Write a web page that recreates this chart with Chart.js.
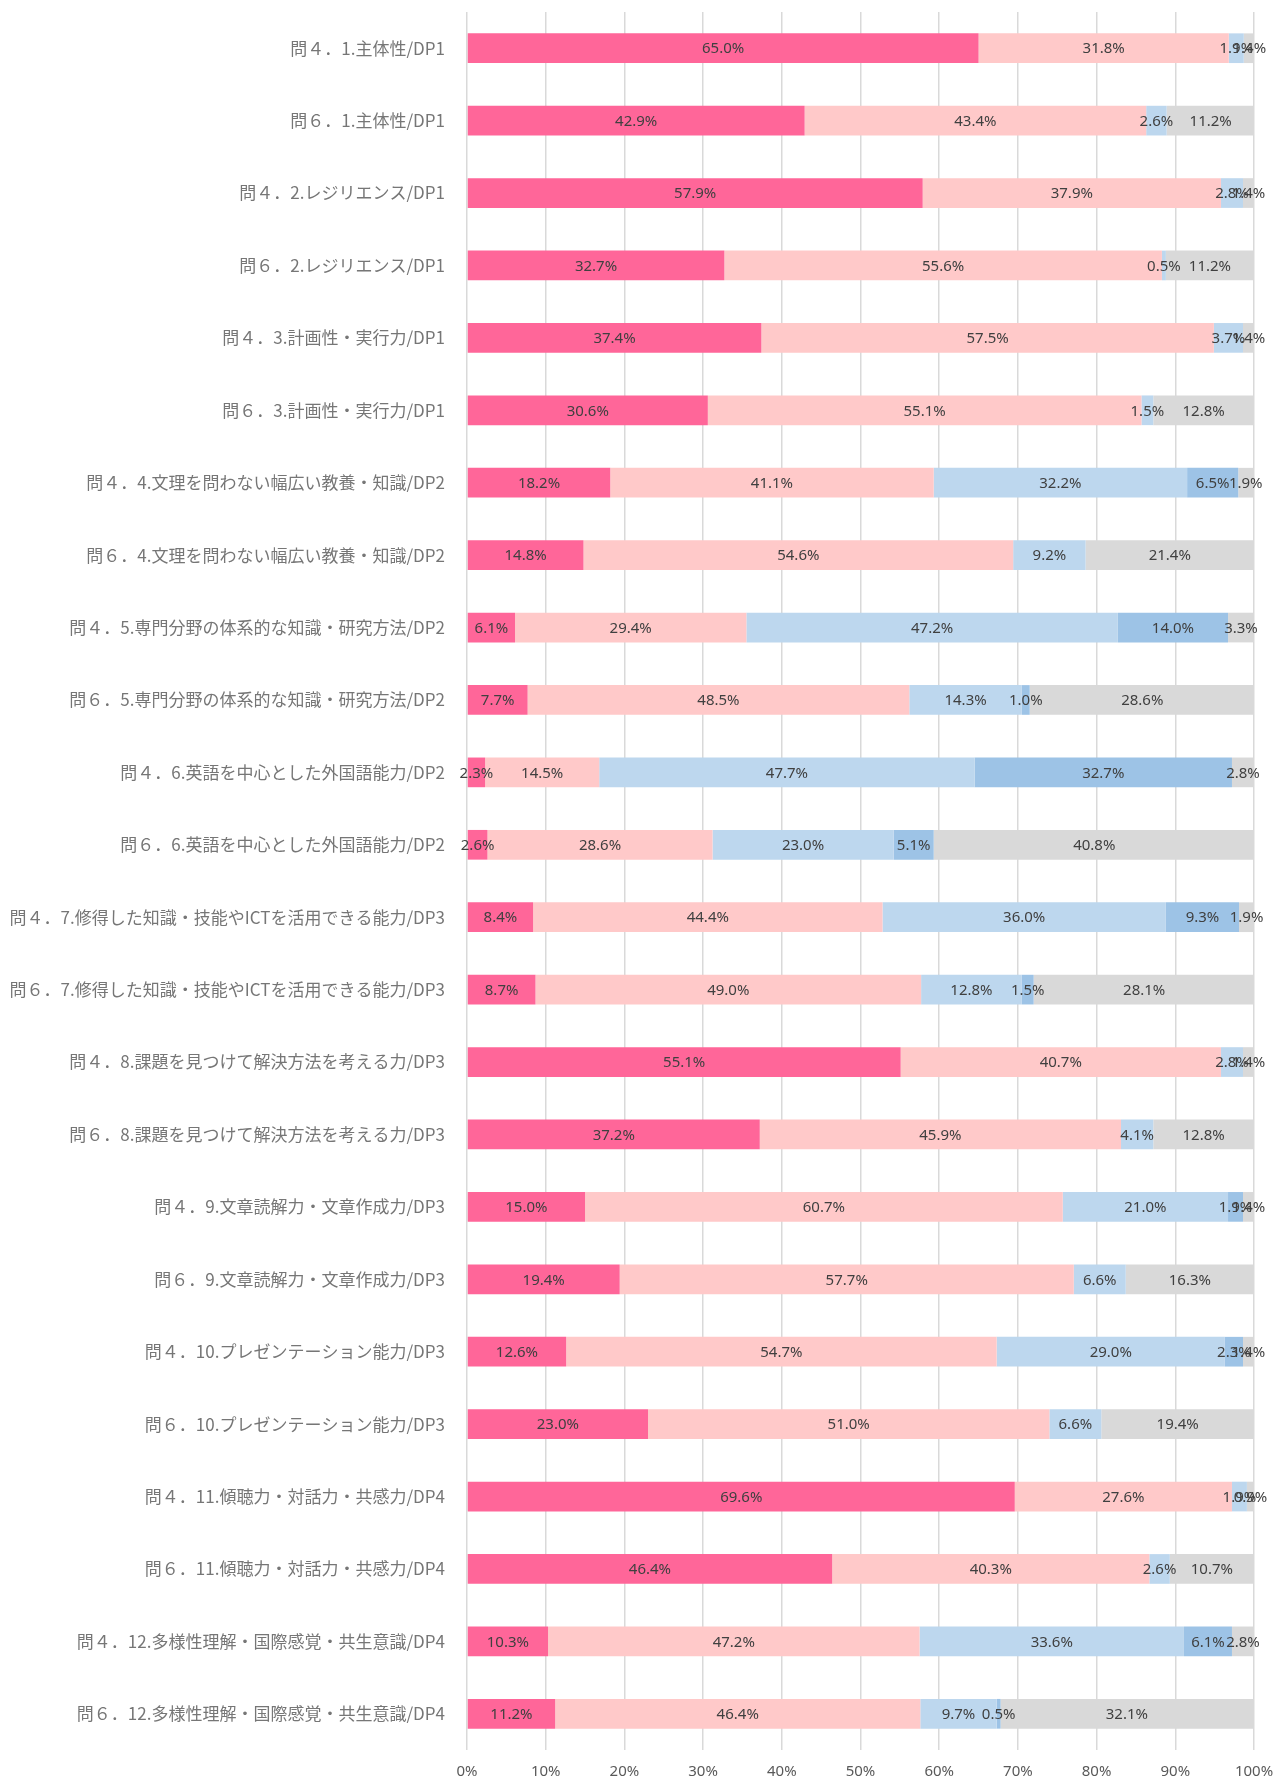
<!DOCTYPE html>
<html lang="ja">
<head>
    <meta charset="UTF-8">
    <title>DP達成度</title>
    <script src="https://cdn.jsdelivr.net/npm/chart.js"></script>
    <style>
        html, body { margin: 0; padding: 0; background: #ffffff; overflow: hidden; }
        .chart-wrap { width: 1274px; height: 1780px; position: relative; }
        canvas { display: block; }
    </style>
</head>
<body>
    <div class="chart-wrap">
        <canvas id="dpChart"></canvas>
    </div>

    <script>
        // Categories (top to bottom)
        const categories = [
            '問４．1.主体性/DP1',
            '問６．1.主体性/DP1',
            '問４．2.レジリエンス/DP1',
            '問６．2.レジリエンス/DP1',
            '問４．3.計画性・実行力/DP1',
            '問６．3.計画性・実行力/DP1',
            '問４．4.文理を問わない幅広い教養・知識/DP2',
            '問６．4.文理を問わない幅広い教養・知識/DP2',
            '問４．5.専門分野の体系的な知識・研究方法/DP2',
            '問６．5.専門分野の体系的な知識・研究方法/DP2',
            '問４．6.英語を中心とした外国語能力/DP2',
            '問６．6.英語を中心とした外国語能力/DP2',
            '問４．7.修得した知識・技能やICTを活用できる能力/DP3',
            '問６．7.修得した知識・技能やICTを活用できる能力/DP3',
            '問４．8.課題を見つけて解決方法を考える力/DP3',
            '問６．8.課題を見つけて解決方法を考える力/DP3',
            '問４．9.文章読解力・文章作成力/DP3',
            '問６．9.文章読解力・文章作成力/DP3',
            '問４．10.プレゼンテーション能力/DP3',
            '問６．10.プレゼンテーション能力/DP3',
            '問４．11.傾聴力・対話力・共感力/DP4',
            '問６．11.傾聴力・対話力・共感力/DP4',
            '問４．12.多様性理解・国際感覚・共生意識/DP4',
            '問６．12.多様性理解・国際感覚・共生意識/DP4'
        ];

        // Series values (%)
        const series1 = [65.0, 42.9, 57.9, 32.7, 37.4, 30.6, 18.2, 14.8, 6.1, 7.7, 2.3, 2.6, 8.4, 8.7, 55.1, 37.2, 15.0, 19.4, 12.6, 23.0, 69.6, 46.4, 10.3, 11.2];
        const series2 = [31.8, 43.4, 37.9, 55.6, 57.5, 55.1, 41.1, 54.6, 29.4, 48.5, 14.5, 28.6, 44.4, 49.0, 40.7, 45.9, 60.7, 57.7, 54.7, 51.0, 27.6, 40.3, 47.2, 46.4];
        const series3 = [1.9, 2.6, 2.8, 0.5, 3.7, 1.5, 32.2, 9.2, 47.2, 14.3, 47.7, 23.0, 36.0, 12.8, 2.8, 4.1, 21.0, 6.6, 29.0, 6.6, 1.9, 2.6, 33.6, 9.7];
        const series4 = [0, 0, 0, 0, 0, 0, 6.5, 0, 14.0, 1.0, 32.7, 5.1, 9.3, 1.5, 0, 0, 1.9, 0, 2.3, 0, 0, 0, 6.1, 0.5];
        const series5 = [1.4, 11.2, 1.4, 11.2, 1.4, 12.8, 1.9, 21.4, 3.3, 28.6, 2.8, 40.8, 1.9, 28.1, 1.4, 12.8, 1.4, 16.3, 1.4, 19.4, 0.9, 10.7, 2.8, 32.1];

        const xTicks = [0, 10, 20, 30, 40, 50, 60, 70, 80, 90, 100];

        // Draw value labels in the middle of each segment
        const segmentLabels = {
            id: 'segmentLabels',
            afterDatasetsDraw(chart) {
                const ctx = chart.ctx;
                ctx.save();
                ctx.font = '15px "Noto Sans", "Liberation Sans", sans-serif';
                ctx.fillStyle = '#404040';
                ctx.textAlign = 'center';
                ctx.textBaseline = 'middle';
                chart.data.datasets.forEach((ds, i) => {
                    const meta = chart.getDatasetMeta(i);
                    meta.data.forEach((bar, j) => {
                        const v = ds.data[j];
                        if (!v) return;
                        const p = bar.getProps(['x', 'y', 'base'], true);
                        ctx.fillText(v.toFixed(1) + '%', (p.x + p.base) / 2, p.y + 1);
                    });
                });
                ctx.restore();
            }
        };

        function initChart() {
            const ctx = document.getElementById('dpChart').getContext('2d');
            const common = { barPercentage: 0.41, categoryPercentage: 1.0, borderWidth: 0 };

            new Chart(ctx, {
                type: 'bar',
                data: {
                    labels: categories,
                    datasets: [
                        Object.assign({ label: '1', data: series1, backgroundColor: '#ff6699' }, common),
                        Object.assign({ label: '2', data: series2, backgroundColor: '#ffc9c9' }, common),
                        Object.assign({ label: '3', data: series3, backgroundColor: '#bdd7ee' }, common),
                        Object.assign({ label: '4', data: series4, backgroundColor: '#9dc3e6' }, common),
                        Object.assign({ label: '5', data: series5, backgroundColor: '#d9d9d9' }, common)
                    ]
                },
                options: {
                    indexAxis: 'y',
                    responsive: true,
                    maintainAspectRatio: false,
                    animation: false,
                    layout: { padding: { top: 12, right: 20, bottom: 0, left: 0 } },
                    plugins: {
                        legend: { display: false },
                        tooltip: { enabled: false }
                    },
                    scales: {
                        x: {
                            stacked: true,
                            min: 0,
                            max: 100,
                            afterBuildTicks: (scale) => {
                                scale.ticks = xTicks.map(v => ({ value: v }));
                            },
                            afterFit: (scale) => {
                                scale.height = 30;
                                scale.paddingLeft = 0;
                                scale.paddingRight = 0;
                            },
                            grid: { color: '#d9d9d9', lineWidth: 1.5, drawTicks: false },
                            border: { display: false },
                            ticks: {
                                padding: 13,
                                color: '#595959',
                                font: { family: '"Noto Sans", "Liberation Sans", sans-serif', size: 15 },
                                callback: (v) => v + '%'
                            }
                        },
                        y: {
                            stacked: true,
                            afterFit: (scale) => {
                                scale.width = 467;
                                scale.paddingTop = 0;
                                scale.paddingBottom = 0;
                            },
                            grid: { display: false },
                            border: { display: false },
                            ticks: {
                                padding: 14,
                                color: '#767676',
                                autoSkip: false,
                                font: { family: '"Noto Sans CJK JP", "Noto Sans", sans-serif', size: 17 }
                            }
                        }
                    }
                },
                plugins: [segmentLabels]
            });
        }

        document.addEventListener('DOMContentLoaded', initChart);
    </script>
</body>
</html>
